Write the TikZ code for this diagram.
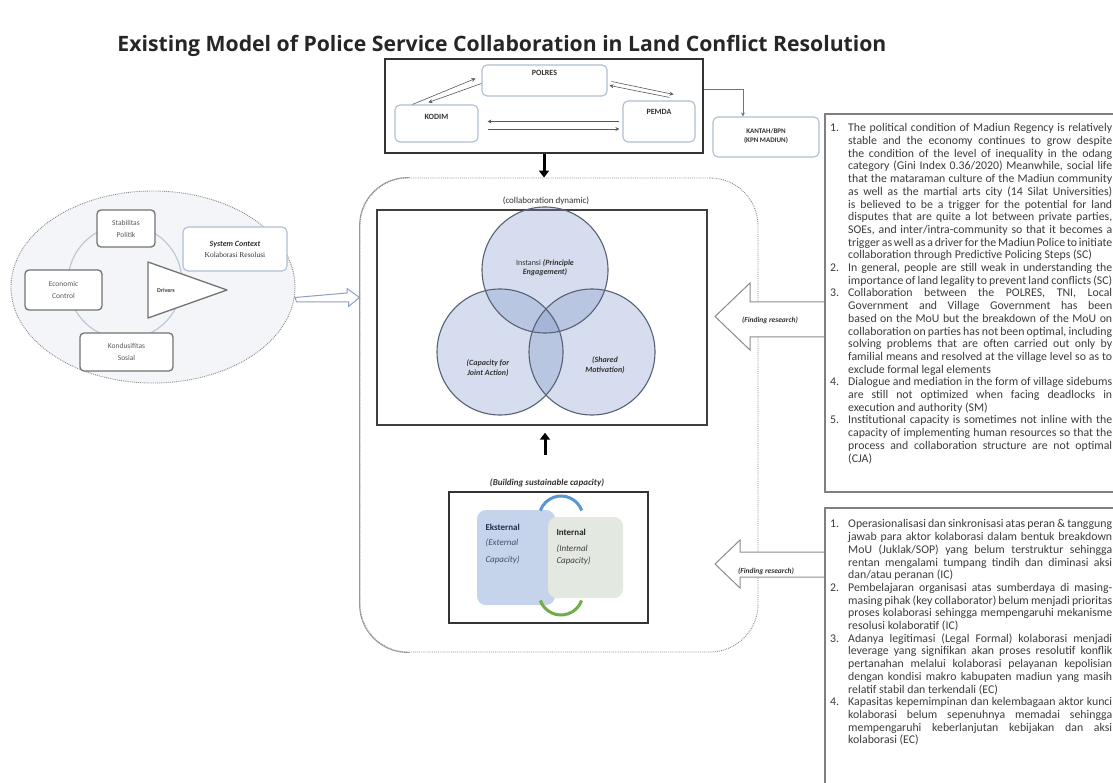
\documentclass[tikz,border=0pt]{standalone}
\usepackage{fontspec}
\setmainfont{Carlito}
\newfontfamily\headfont{Open Sans}
\newfontfamily\romanfont{Liberation Serif}
\usetikzlibrary{arrows.meta}
\definecolor{boxline}{RGB}{176,189,210}
\definecolor{venn}{RGB}{120,145,200}
\definecolor{vennline}{RGB}{88,98,118}
\definecolor{extfill}{RGB}{197,211,235}
\definecolor{intfill}{RGB}{227,232,224}
\definecolor{arcblue}{RGB}{91,150,212}
\definecolor{arcgreen}{RGB}{112,173,71}
\definecolor{navy}{RGB}{31,45,80}
\definecolor{slate}{RGB}{68,80,100}
\definecolor{ovalfill}{RGB}{243,245,249}
\definecolor{ringline}{RGB}{190,200,215}
\definecolor{hollowline}{RGB}{140,160,195}
\definecolor{bodytext}{RGB}{60,60,60}
% one numbered finding with a hanging indent
\newcommand\fitem[2]{\par\noindent\hangindent=18pt\hangafter=1\makebox[18pt][l]{#1.}#2\par}

\begin{document}
\begin{tikzpicture}[x=1pt,y=-1pt,
  actorbox/.style={draw=boxline, line width=1.1pt, rounded corners=5pt, fill=white, inner sep=0pt},
  tag/.style={font=\bfseries\fontsize{8}{9.5}\selectfont, text=black!80, align=center},
  link/.style={draw=black!65, line width=0.6pt, -{Stealth[length=4pt,width=4pt]}},
  bigarrow/.style={draw=black, line width=3pt, -{Triangle[length=7pt,width=10pt]}},
  panel/.style={draw=black!45, densely dotted, line width=0.9pt, rounded corners=48pt, inner sep=0pt},
  vennfill/.style={circle, inner sep=0pt, minimum size=126pt, fill=venn, fill opacity=0.3},
  vennring/.style={circle, inner sep=0pt, minimum size=126pt, draw=vennline, line width=1.1pt},
  vtxt/.style={font=\fontsize{8}{9.5}\selectfont, text=black!80, align=center},
  gbox/.style={draw=black!55, line width=1.3pt, rounded corners=4pt, fill=white, inner sep=0pt,
               font=\fontsize{7.5}{12}\selectfont, text=black!65, align=center},
  hollow/.style={draw=black!45, line width=1pt, fill=white},
  frlabel/.style={font=\bfseries\itshape\fontsize{7.5}{9}\selectfont, text=black!80},
  notebox/.style={draw=black!50, line width=1.3pt},
  notes/.style={anchor=north west, inner sep=0pt, text width=282pt, align=justify,
                font=\fontsize{11.8}{12.7}\selectfont, text=bodytext}
]
\useasboundingbox (0,0) rectangle (1113,783);
\fill[white] (0,0) rectangle (1113,783);

% title
\node[font=\headfont\bfseries\fontsize{21.2}{25}\selectfont, text=black!85] (title) at (502,46)
  {Existing Model of Police Service Collaboration in Land Conflict Resolution};

% actors block
\node[draw=black!80, line width=2pt, fill=white, minimum width=318pt, minimum height=94pt, inner sep=0pt] (actors) at (544,106.5) {};
\node[actorbox, minimum width=125pt, minimum height=31pt] (polres) at (544.5,80.5) {};
\node[actorbox, minimum width=83pt, minimum height=37pt] (kodim) at (436.5,123.5) {};
\node[actorbox, minimum width=72pt, minimum height=41pt] (pemda) at (659,121.5) {};
\node[tag] at ([yshift=-8pt]polres.north) {POLRES};
\node[tag] at ([yshift=-12pt]kodim.north) {KODIM};
\node[tag] at ([yshift=-11pt]pemda.north) {PEMDA};

\draw[link] ([xshift=18pt]kodim.north west) -- ([xshift=-6pt,yshift=2pt]polres.west);
\draw[link] ([yshift=-3pt]polres.west) -- ([xshift=34pt,yshift=2pt]kodim.north west);
\draw[link] ([xshift=4pt,yshift=-1pt]polres.east) -- ([xshift=-22pt,yshift=6pt]pemda.north east);
\draw[link] ([xshift=-26pt,yshift=3pt]pemda.north east) -- ([xshift=2pt,yshift=-5pt]polres.east);
\draw[link, shorten <=3pt, shorten >=9pt] (pemda.west) -- (pemda.west -| kodim.east);
\draw[link, shorten <=9pt, shorten >=3pt] ([yshift=-5.5pt]kodim.east) -- ([yshift=-5.5pt]kodim.east -| pemda.west);

% land office
\node[actorbox, minimum width=106pt, minimum height=40pt] (kantah) at (766,137) {};
\node[tag, font=\bfseries\fontsize{7}{9}\selectfont] at ([yshift=1pt]kantah.center) {KANTAH/BPN\\(KPN MADIUN)};
\draw[link, draw=black!55] ([yshift=17.5pt]actors.east) -| ([xshift=-23pt]kantah.north);

% collaboration panel
\node[panel, minimum width=398pt, minimum height=474pt] (panel) at (559,415) {};
\draw[black!40, line width=0.9pt, rounded corners=48pt]
  ([xshift=50pt]panel.north west) -- (panel.north west) -- (panel.south west) -- ([xshift=50pt]panel.south west);
\draw[bigarrow] (actors.south) -- (actors.south |- panel.north);

% collaboration dynamic
\node[font=\fontsize{9}{11}\selectfont, text=black!80] (dynlbl) at (546,201) {(collaboration dynamic)};
\node[draw=black!75, line width=1.4pt, minimum width=330pt, minimum height=215pt, inner sep=0pt] (dynbox) at (542,317.5) {};
\node[vennfill] (ve) at (545,270) {};
\node[vennfill] (vl) at (500,352) {};
\node[vennfill] (vr) at (592,352) {};
\node[vennring] at (ve) {};
\node[vennring] at (vl) {};
\node[vennring] at (vr) {};
\node[vtxt] at (545,267.5) {Instansi \textbf{\textit{(Principle}}\\\textbf{\textit{Engagement)}}};
\node[vtxt] at (488,368) {\textbf{\textit{(Capacity for}}\\\textbf{\textit{Joint Action)}}};
\node[vtxt] at (605,365) {\textbf{\textit{(Shared}}\\\textbf{\textit{Motivation)}}};

% sustainable capacity
\node[font=\bfseries\itshape\fontsize{9}{11}\selectfont, text=black!80] (caplbl) at (547,483) {(Building sustainable capacity)};
\coordinate (capfoot) at (545,455);
\draw[bigarrow, shorten >=7pt] (capfoot) -- (capfoot |- dynbox.south);
\node[draw=black!80, line width=1.4pt, minimum width=199pt, minimum height=131pt, inner sep=0pt] (capbox) at (548.5,557.5) {};
\node[fill=extfill, rounded corners=9pt, minimum width=78pt, minimum height=95pt, inner sep=0pt] (ext) at (516,557.5) {};
\node[fill=intfill, rounded corners=9pt, minimum width=75pt, minimum height=81pt, inner sep=0pt] (int) at (585.5,557.5) {};
\draw[arcblue, line width=3pt] (581.7,510.5) arc[start angle=20, end angle=160, radius=22pt];
\draw[arcgreen, line width=3pt] (540.3,600.5) arc[start angle=200, end angle=340, radius=22pt];
\node[anchor=west, font=\bfseries\fontsize{9}{11}\selectfont, text=navy] at (482,527) {Eksternal};
\node[anchor=west, font=\itshape\fontsize{9}{11}\selectfont, text=slate] at (482,543) {(External};
\node[anchor=west, font=\itshape\fontsize{9}{11}\selectfont, text=slate] at (482,560) {Capacity)};
\node[anchor=west, font=\bfseries\fontsize{9}{11}\selectfont, text=black!85] at (553,532) {Internal};
\node[anchor=west, font=\itshape\fontsize{9}{11}\selectfont, text=black!75] at (553,549) {(Internal};
\node[anchor=west, font=\itshape\fontsize{9}{11}\selectfont, text=black!75] at (553,561) {Capacity)};

% findings arrows
\draw[hollow] (715,316.5) -- (750,283) -- (750,302) -- (825,302) -- (825,337) -- (750,337) -- (750,350) -- cycle;
\node[frlabel] at (770,320) {(Finding research)};
\draw[hollow] (715,564) -- (740,540) -- (740,552) -- (825,552) -- (825,577) -- (740,577) -- (740,588) -- cycle;
\node[frlabel] at (766,571) {(Finding research)};

% findings text
\draw[notebox] (1116,114) -- (825,114) -- (825,492) -- (1116,492);
\draw[notebox] (1116,508) -- (825,508) -- (825,790);
\node[notes] (notes1) at (830,119) {\sloppy\hyphenpenalty=10000
\fitem{1}{The political condition of Madiun Regency is relatively stable and the economy continues to grow despite the condition of the level of inequality in the odang category (Gini Index 0.36/2020) Meanwhile, social life that the mataraman culture of the Madiun community as well as the martial arts city (14 Silat Universities) is believed to be a trigger for the potential for land disputes that are quite a lot between private parties, SOEs, and inter/intra-community so that it becomes a trigger as well as a driver for the Madiun Police to initiate collaboration through Predictive Policing Steps (SC)}
\fitem{2}{In general, people are still weak in understanding the importance of land legality to prevent land conflicts (SC)}
\fitem{3}{Collaboration between the POLRES, TNI, Local Government and Village Government has been based on the MoU but the breakdown of the MoU on collaboration on parties has not been optimal, including solving problems that are often carried out only by familial means and resolved at the village level so as to exclude formal legal elements}
\fitem{4}{Dialogue and mediation in the form of village sidebums are still not optimized when facing deadlocks in execution and authority (SM)}
\fitem{5}{Institutional capacity is sometimes not inline with the capacity of implementing human resources so that the process and collaboration structure are not optimal (CJA)}};
\node[notes] (notes2) at (830,515) {\sloppy\hyphenpenalty=10000
\fitem{1}{Operasionalisasi dan sinkronisasi atas peran \& tanggung jawab para aktor kolaborasi dalam bentuk breakdown MoU (Juklak/SOP) yang belum terstruktur sehingga rentan mengalami tumpang tindih dan diminasi aksi dan/atau peranan (IC)}
\fitem{2}{Pembelajaran organisasi atas sumberdaya di masing-masing pihak (key collaborator) belum menjadi prioritas proses kolaborasi sehingga mempengaruhi mekanisme resolusi kolaboratif (IC)}
\fitem{3}{Adanya legitimasi (Legal Formal) kolaborasi menjadi leverage yang signifikan akan proses resolutif konflik pertanahan melalui kolaborasi pelayanan kepolisian dengan kondisi makro kabupaten madiun yang masih relatif stabil dan terkendali (EC)}
\fitem{4}{Kapasitas kepemimpinan dan kelembagaan aktor kunci kolaborasi belum sepenuhnya memadai sehingga mempengaruhi keberlanjutan kebijakan dan aksi kolaborasi (EC)}};

% system context
\path[fill=ovalfill, draw=black!45, densely dotted, line width=0.9pt] (153,287) ellipse[x radius=142pt, y radius=96pt];
\coordinate (ovalE) at (295,297.5);
\draw[ringline, line width=1.2pt] (125,282) circle[radius=57pt];
\node[gbox, minimum width=58pt, minimum height=37pt] (stab) at (126,228.5) {Stabilitas\\Politik};
\node[gbox, minimum width=77pt, minimum height=40pt] (econ) at (63.5,290) {Economic\\Control};
\node[gbox, minimum width=93pt, minimum height=38pt] (kond) at (126.5,352) {Kondusifitas\\Sosial};
\node[actorbox, minimum width=104pt, minimum height=44pt, align=center, text=black!80] (sysctx) at (235,249)
  {{\bfseries\itshape\fontsize{8}{10}\selectfont System Context}\\[-1pt]{\romanfont\fontsize{7.5}{10}\selectfont Kolaborasi Resolusi}};
\draw[black!55, line width=1.3pt, fill=white, line join=round] (148,262) -- (148,318) -- (227,290) -- cycle;
\node[font=\bfseries\fontsize{6}{7}\selectfont, text=black!75] (drivers) at (166,290) {Drivers};
\draw[draw=hollowline, line width=1pt, fill=white]
  (ovalE) -- ++(52,-4.5) -- ++(0,-4.5) -- (panel.west |- ovalE) -- ++(-11,9) -- ++(0,-4.5) -- ++(-52,0) -- cycle;
\end{tikzpicture}
\end{document}
